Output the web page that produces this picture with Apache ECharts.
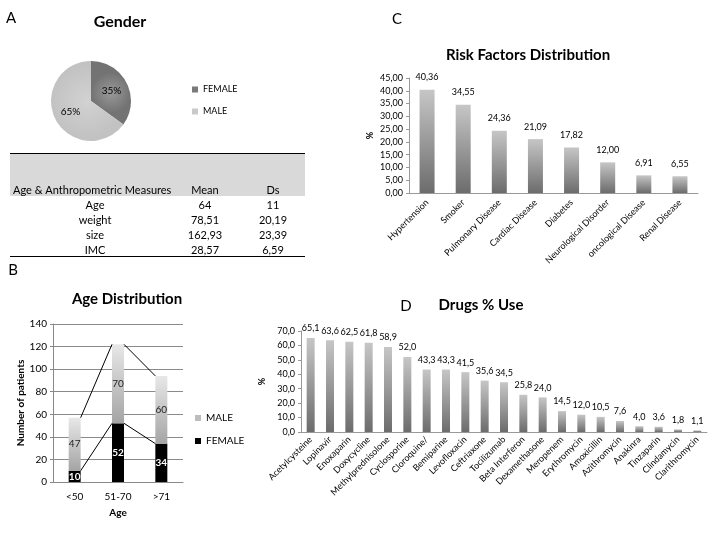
<!DOCTYPE html>
<html><head><meta charset="utf-8">
<script src="https://cdn.jsdelivr.net/npm/echarts@6/dist/echarts.min.js"></script>
<style>html,body{margin:0;padding:0;background:#fff}#c{width:720px;height:540px}</style>
</head><body><div id="c"></div>
<script>
// ---- Data ----
const genderNames = ['FEMALE', 'MALE'];
const genderValues = [35, 65];

const tableHeader = ['Age & Anthropometric Measures', 'Mean', 'Ds'];
const tableLabels = ['Age', 'weight', 'size', 'IMC'];
const tableMeans = ['64', '78,51', '162,93', '28,57'];
const tableDs = ['11', '20,19', '23,39', '6,59'];

const ageCategories = ['<50', '51-70', '>71'];
const ageFemale = [10, 52, 34];
const ageMale = [47, 70, 60];

const riskCategories = ['Hypertension', 'Smoker', 'Pulmonary Disease', 'Cardiac Disease', 'Diabetes', 'Neurological Disorder', 'oncological Disease', 'Renal Disease'];
const riskValues = [40.36, 34.55, 24.36, 21.09, 17.82, 12.00, 6.91, 6.55];

const drugCategories = ['Acetylcysteine', 'Lopinavir', 'Enoxaparin', 'Doxycycline', 'Methylprednisolone', 'Cyclosporine', 'Cloroquine/', 'Bemiparine', 'Levofloxacin', 'Ceftriaxone', 'Tocilizumab', 'Beta Interferon', 'Dexamethasone', 'Meropenem', 'Erythromycin', 'Amoxicillin', 'Azithromycin', 'Anakinra', 'Tinzaparin', 'Clindamycin', 'Clarithromycin'];
const drugValues = [65.1, 63.6, 62.5, 61.8, 58.9, 52.0, 43.3, 43.3, 41.5, 35.6, 34.5, 25.8, 24.0, 14.5, 12.0, 10.5, 7.6, 4.0, 3.6, 1.8, 1.1];

// ---- Chart ----
const FONT = 'Lato';
const chart = echarts.init(document.getElementById('c'), null, {renderer: 'canvas'});
const comma = (v, d) => Number(v).toFixed(d).replace('.', ',');
const barGrad = {type: 'linear', x: 0, y: 0, x2: 0, y2: 1, colorStops: [{offset: 0, color: '#c6c6c6'}, {offset: 1, color: '#6c6c6c'}]};
const maleGrad = {type: 'linear', x: 0, y: 0, x2: 0, y2: 1, colorStops: [{offset: 0, color: '#e8e8e8'}, {offset: 1, color: '#a4a4a4'}]};
const ageBarW = 12;
const femaleCum = ageFemale.slice();
const totalCum = ageFemale.map((v, i) => v + ageMale[i]);

// table graphics
const tableEls = [];
tableEls.push({type: 'rect', shape: {x: 10, y: 154, width: 295, height: 42}, style: {fill: '#d9d9d9'}, silent: true});
tableEls.push({type: 'line', shape: {x1: 10, y1: 153.5, x2: 305, y2: 153.5}, style: {stroke: '#000', lineWidth: 1}});
tableEls.push({type: 'line', shape: {x1: 10, y1: 256.5, x2: 305, y2: 256.5}, style: {stroke: '#000', lineWidth: 1}});
const colX = [95, 205, 273];
tableEls.push({type: 'text', x: 13, y: 190, style: {text: tableHeader[0], font: '11px ' + FONT, fill: '#000', textAlign: 'left', textVerticalAlign: 'middle'}});
tableEls.push({type: 'text', x: colX[1], y: 190, style: {text: tableHeader[1], font: '11px ' + FONT, fill: '#000', textAlign: 'center', textVerticalAlign: 'middle'}});
tableEls.push({type: 'text', x: colX[2], y: 190, style: {text: tableHeader[2], font: '11px ' + FONT, fill: '#000', textAlign: 'center', textVerticalAlign: 'middle'}});
const rowY = [205, 220.5, 235.5, 250];
tableLabels.forEach((lab, i) => {
  [lab, tableMeans[i], tableDs[i]].forEach((t, j) => {
    tableEls.push({type: 'text', x: colX[j], y: rowY[i], style: {text: t, font: '11px ' + FONT, fill: '#000', textAlign: 'center', textVerticalAlign: 'middle'}});
  });
});
const letter = (t, x, y) => ({type: 'text', x: x, y: y, style: {text: t, font: '15px ' + FONT, fill: '#000', textAlign: 'center', textVerticalAlign: 'middle'}});

const option = {
  animation: false,
  textStyle: {fontFamily: FONT},
  title: [
    {text: 'Gender', left: 120, top: 22, textAlign: 'center', textVerticalAlign: 'middle', textStyle: {fontSize: 16, fontWeight: 'bold', fontFamily: FONT, color: '#000'}},
    {text: 'Age Distribution', left: 127, top: 299, textAlign: 'center', textVerticalAlign: 'middle', textStyle: {fontSize: 15, fontWeight: 'bold', fontFamily: FONT, color: '#000'}},
    {text: 'Risk Factors Distribution', left: 528, top: 55, textAlign: 'center', textVerticalAlign: 'middle', textStyle: {fontSize: 15, fontWeight: 'bold', fontFamily: FONT, color: '#000'}},
    {text: 'Drugs % Use', left: 481, top: 305, textAlign: 'center', textVerticalAlign: 'middle', textStyle: {fontSize: 15, fontWeight: 'bold', fontFamily: FONT, color: '#000'}}
  ].map(t => Object.assign(t, {padding: 0})),
  legend: [
    {orient: 'vertical', left: 187, top: 80, itemWidth: 6, itemHeight: 6, itemGap: 13, icon: 'rect',
     textStyle: {fontSize: 9, fontFamily: FONT, color: '#000'},
     data: [{name: genderNames[0], itemStyle: {color: '#7a7a7a'}}, {name: genderNames[1], itemStyle: {color: '#cacaca'}}]},
    {orient: 'vertical', left: 190, top: 408, itemWidth: 6, itemHeight: 6, itemGap: 13, icon: 'rect',
     textStyle: {fontSize: 10, fontFamily: FONT, color: '#000'},
     data: [{name: 'MALE', itemStyle: {color: '#bdbdbd'}}, {name: 'FEMALE', itemStyle: {color: '#000'}}]}
  ],
  grid: [
    {left: 53, top: 324, width: 130, height: 158},
    {left: 409, top: 78, width: 289, height: 115},
    {left: 301, top: 331, width: 406, height: 101}
  ],
  xAxis: [
    {type: 'category', gridIndex: 0, data: ageCategories, name: 'Age', nameLocation: 'middle', nameGap: 26,
     nameTextStyle: {fontWeight: 'bold', fontSize: 10, color: '#000'},
     axisLine: {lineStyle: {color: '#888'}}, axisTick: {show: false},
     axisLabel: {fontSize: 10, color: '#000', margin: 10}},
    {type: 'category', gridIndex: 1, data: riskCategories,
     axisLine: {lineStyle: {color: '#999'}}, axisTick: {show: false},
     axisLabel: {interval: 0, rotate: 45, fontSize: 9, color: '#000', margin: 8}},
    {type: 'category', gridIndex: 2, data: drugCategories,
     axisLine: {lineStyle: {color: '#999'}}, axisTick: {show: false},
     axisLabel: {interval: 0, rotate: 45, fontSize: 9, color: '#000', margin: 6}}
  ],
  yAxis: [
    {type: 'value', gridIndex: 0, min: 0, max: 140, interval: 20, name: 'Number of patients', nameLocation: 'middle', nameGap: 26,
     nameTextStyle: {fontWeight: 'bold', fontSize: 10, color: '#000'},
     axisLine: {show: true, lineStyle: {color: '#888'}}, axisTick: {show: true, length: 3, lineStyle: {color: '#888'}},
     splitLine: {lineStyle: {color: '#8a8a8a'}}, axisLabel: {fontSize: 10, color: '#000', margin: 6}},
    {type: 'value', gridIndex: 1, min: 0, max: 45, interval: 5, name: '%', nameLocation: 'middle', nameGap: 34,
     nameTextStyle: {fontWeight: 'bold', fontSize: 9, color: '#000'},
     axisLine: {show: true, lineStyle: {color: '#999'}}, axisTick: {show: true, length: 3, lineStyle: {color: '#999'}},
     splitLine: {show: false}, axisLabel: {fontSize: 9, color: '#000', margin: 6, formatter: v => comma(v, 2)}},
    {type: 'value', gridIndex: 2, min: 0, max: 70, interval: 10, name: '%', nameLocation: 'middle', nameGap: 30,
     nameTextStyle: {fontWeight: 'bold', fontSize: 9, color: '#000'},
     axisLine: {show: true, lineStyle: {color: '#999'}}, axisTick: {show: true, length: 3, lineStyle: {color: '#999'}},
     splitLine: {show: false}, axisLabel: {fontSize: 9, color: '#000', margin: 6, formatter: v => comma(v, 1)}}
  ],
  series: [
    {type: 'pie', center: [91, 101], radius: 40, startAngle: 90, clockwise: true,
     label: {position: 'inside', formatter: p => p.value + '%', fontSize: 10, color: '#000', fontFamily: FONT},
     labelLine: {show: false},
     itemStyle: {borderWidth: 0},
     data: [
       {name: genderNames[0], value: genderValues[0], itemStyle: {color: {type: 'radial', x: 0.5, y: 0.5, r: 0.5, colorStops: [{offset: 0, color: '#999'}, {offset: 1, color: '#737373'}]}}},
       {name: genderNames[1], value: genderValues[1], itemStyle: {color: {type: 'radial', x: 0.5, y: 0.5, r: 0.5, colorStops: [{offset: 0, color: '#d2d2d2'}, {offset: 1, color: '#c2c2c2'}]}}}
     ]},
    {type: 'bar', name: 'FEMALE', xAxisIndex: 0, yAxisIndex: 0, stack: 'age', barWidth: ageBarW, data: ageFemale,
     itemStyle: {color: '#000'},
     label: {show: true, position: 'inside', color: '#fff', fontSize: 10, fontWeight: 'bold'}},
    {type: 'bar', name: 'MALE', xAxisIndex: 0, yAxisIndex: 0, stack: 'age', barWidth: ageBarW, data: ageMale,
     itemStyle: {color: maleGrad},
     label: {show: true, position: 'inside', color: '#222', fontSize: 10}},
    {type: 'custom', xAxisIndex: 0, yAxisIndex: 0, z: 5, silent: true,
     data: ageCategories.slice(0, -1).map((c, i) => [i]),
     encode: {x: 0},
     renderItem: (params, api) => {
       const i = params.dataIndex;
       const half = ageBarW / 2;
       const children = [femaleCum, totalCum].map(lvl => {
         const p1 = api.coord([i, lvl[i]]);
         const p2 = api.coord([i + 1, lvl[i + 1]]);
         return {type: 'line', shape: {x1: p1[0] + half, y1: p1[1], x2: p2[0] - half, y2: p2[1]}, style: {stroke: '#000', lineWidth: 1}};
       });
       return {type: 'group', children: children};
     }},
    {type: 'bar', xAxisIndex: 1, yAxisIndex: 1, barWidth: 15, data: riskValues,
     itemStyle: {color: barGrad},
     label: {show: true, position: 'top', distance: 8, fontSize: 9, color: '#000', formatter: p => comma(p.value, 2)}},
    {type: 'bar', xAxisIndex: 2, yAxisIndex: 2, barWidth: 8, data: drugValues,
     itemStyle: {color: barGrad},
     label: {show: true, position: 'top', distance: 5, fontSize: 9, color: '#000', formatter: p => comma(p.value, 1)}}
  ],
  graphic: tableEls.concat([
    letter('A', 11, 18), letter('B', 13, 270), letter('C', 397, 19), letter('D', 406, 306)
  ])
};
chart.setOption(option);
</script></body></html>
